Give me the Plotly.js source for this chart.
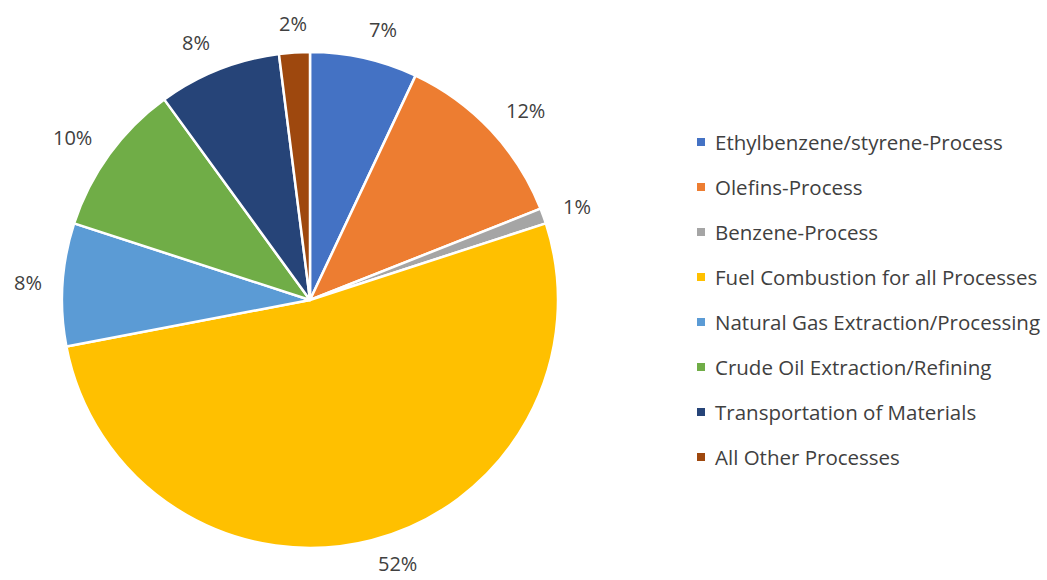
<!DOCTYPE html>
<html>
<head>
<meta charset="utf-8">
<script src="https://cdn.plot.ly/plotly-3.0.1.min.js"></script>
<style>html,body{margin:0;padding:0;background:#fff;}#chart{width:1047px;height:580px;}</style>
</head>
<body>
<div id="chart"></div>
<script>
const categories = [
  "Ethylbenzene/styrene-Process",
  "Olefins-Process",
  "Benzene-Process",
  "Fuel Combustion for all Processes",
  "Natural Gas Extraction/Processing",
  "Crude Oil Extraction/Refining",
  "Transportation of Materials",
  "All Other Processes"
];
const values = [7, 12, 1, 52, 8, 10, 8, 2];
const colors = ["#4472C4", "#ED7D31", "#A5A5A5", "#FFC000", "#5B9BD5", "#70AD47", "#264478", "#9E480E"];

const W = 1047, H = 580;
const cx = 310, cy = 300, R = 248;   // pie centre/radius in pixels
const labelR = R + 20;
const FONT = "'Open Sans', Lato, sans-serif";
const TXT = "#404040";

const trace = {
  type: "pie",
  labels: categories,
  values: values,
  sort: false,
  direction: "clockwise",
  rotation: 0,
  marker: {colors: colors, line: {color: "#ffffff", width: 2.5}},
  textinfo: "none",
  hoverinfo: "label+percent",
  showlegend: false,
  domain: {x: [(cx - R) / W, (cx + R) / W], y: [(H - cy - R) / H, (H - cy + R) / H]}
};

const total = values.reduce((a, b) => a + b, 0);
const annotations = [];
const shapes = [];
let cum = 0;
values.forEach((v, i) => {
  const mid = (cum + v / 2) / total * 2 * Math.PI;
  cum += v;
  const s = Math.sin(mid), c = Math.cos(mid);
  const px = cx + labelR * s;
  const py = cy - labelR * c - c * (c > 0 ? 9 : 4);
  annotations.push({
    x: px / W, y: (H - py) / H, xref: "paper", yref: "paper",
    text: Math.round(v / total * 100) + "%", showarrow: false,
    xanchor: s > 0.15 ? "left" : (s < -0.15 ? "right" : "center"),
    yanchor: "middle", borderpad: 0,
    font: {family: FONT, size: 20, color: TXT}
  });
});

// legend
const legX = 701, legTextX = 713, legY0 = 142, legStep = 45, sq = 8;
categories.forEach((c, i) => {
  const y = legY0 + i * legStep;
  shapes.push({
    type: "rect", xref: "paper", yref: "paper",
    x0: (legX - sq / 2) / W, x1: (legX + sq / 2) / W,
    y0: (H - y - sq / 2) / H, y1: (H - y + sq / 2) / H,
    fillcolor: colors[i], line: {width: 0}
  });
  annotations.push({
    x: legTextX / W, y: (H - y) / H, xref: "paper", yref: "paper",
    text: c, showarrow: false, xanchor: "left", yanchor: "middle",
    font: {family: FONT, size: 20.5, color: TXT}
  });
});

const layout = {
  width: W, height: H,
  margin: {l: 0, r: 0, t: 0, b: 0},
  paper_bgcolor: "#ffffff",
  plot_bgcolor: "#ffffff",
  showlegend: false,
  annotations: annotations,
  shapes: shapes
};

Plotly.newPlot("chart", [trace], layout, {displayModeBar: false, staticPlot: true});
</script>
</body>
</html>
